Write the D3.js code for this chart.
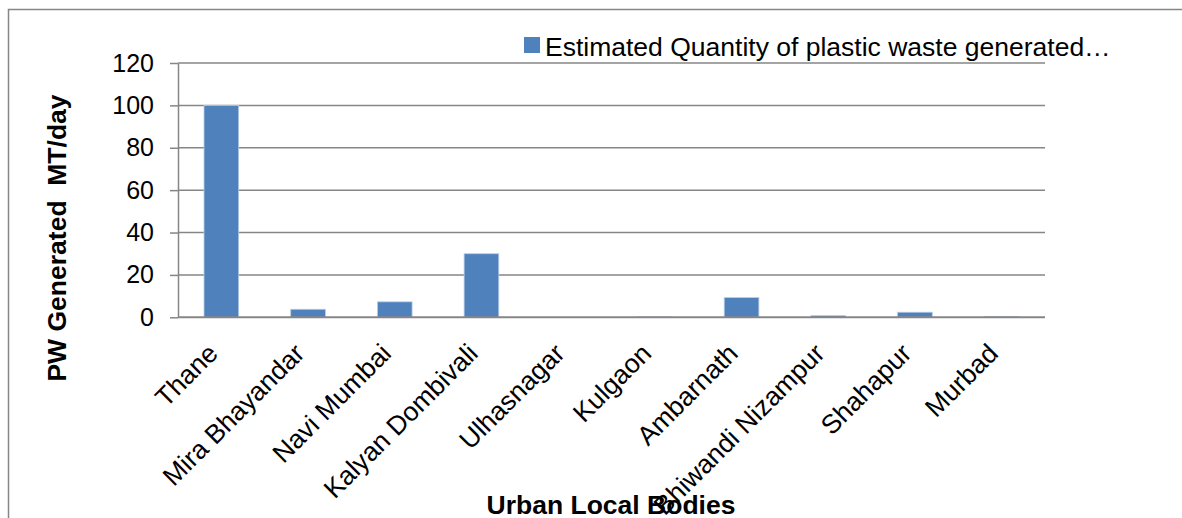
<!DOCTYPE html>
<html>
<head>
<meta charset="utf-8">
<script src="https://cdn.jsdelivr.net/npm/d3@7"></script>
<style>
  html, body { margin: 0; padding: 0; background: #fff; }
  svg { display: block; font-family: "Liberation Sans", Arial, sans-serif; }
</style>
</head>
<body>
<svg id="chart" width="1182" height="518"></svg>
<script>
// Urban local bodies and estimated plastic waste generated (MT/day)
const bodies = ["Thane", "Mira Bhayandar", "Navi Mumbai", "Kalyan Dombivali", "Ulhasnagar",
                "Kulgaon", "Ambarnath", "Bhiwandi Nizampur", "Shahapur", "Murbad"];
const wasteMTPerDay = [100, 3.8, 7.3, 30, 0, 0.2, 9.3, 0.8, 2.4, 0.4];
const yTicks = [0, 20, 40, 60, 80, 100, 120];
const seriesName = "Estimated Quantity of plastic waste generated\u2026";
const yTitle = "PW Generated  MT/day";
const xTitle = "Urban Local Bodies";

const svg = d3.select("#chart");
const grey = "#868686";
const barFill = "#4F81BD";

// outer chart frame
svg.append("path")
  .attr("d", "M8.5,520 V9.5 H1190")
  .attr("fill", "none").attr("stroke", grey).attr("stroke-width", 1.5);

const plot = { left: 178, right: 1045, top: 63, bottom: 317.3 };

const x = d3.scaleBand().domain(bodies).range([plot.left, plot.right]).paddingInner(0.6).paddingOuter(0.3);
const y = d3.scaleLinear().domain([0, 120]).range([plot.bottom, plot.top]);

// horizontal gridlines
svg.append("g").selectAll("line").data(yTicks.filter(d => d > 0)).join("line")
  .attr("x1", plot.left).attr("x2", plot.right)
  .attr("y1", d => y(d)).attr("y2", d => y(d))
  .attr("stroke", grey).attr("stroke-width", 1.5);

// y axis
const yAxis = svg.append("g").attr("transform", `translate(${plot.left},0)`)
  .call(d3.axisLeft(y).tickValues(yTicks).tickSize(8).tickPadding(16).tickSizeOuter(0));
yAxis.select(".domain").attr("stroke", grey).attr("stroke-width", 1.5);
yAxis.selectAll(".tick line").attr("stroke", grey).attr("stroke-width", 1.5);
yAxis.selectAll(".tick text").attr("font-size", 25).attr("fill", "#000")
  .attr("font-family", "Liberation Sans, Arial, sans-serif");

// bars
svg.append("g").selectAll("rect").data(bodies).join("rect")
  .attr("x", d => x(d))
  .attr("width", x.bandwidth())
  .attr("y", (d, i) => y(wasteMTPerDay[i]))
  .attr("height", (d, i) => plot.bottom - y(wasteMTPerDay[i]))
  .attr("fill", barFill)
  .attr("stroke", "#b9cde5").attr("stroke-width", 0.8);

// x axis baseline
svg.append("line")
  .attr("x1", plot.left).attr("x2", plot.right)
  .attr("y1", plot.bottom).attr("y2", plot.bottom)
  .attr("stroke", grey).attr("stroke-width", 2);

// axis titles
svg.append("text")
  .attr("transform", `translate(66,238) rotate(-90)`)
  .attr("text-anchor", "middle")
  .style("white-space", "pre")
  .attr("font-size", 26.5).attr("font-weight", "bold")
  .text(yTitle);

svg.append("text")
  .attr("x", 611).attr("y", 514)
  .attr("text-anchor", "middle")
  .attr("font-size", 26.5).attr("font-weight", "bold")
  .text(xTitle);

// category labels, rotated; drawn after the title so the long one overlaps it
svg.append("g").selectAll("text").data(bodies).join("text")
  .attr("transform", d => `translate(${x(d) + x.bandwidth() / 2 - 2},355) rotate(-45)`)
  .attr("text-anchor", "end")
  .attr("font-size", 26.5)
  .attr("fill", "#000")
  .text(d => d);

// legend
const legend = svg.append("g").attr("transform", "translate(524,37)");
legend.append("rect").attr("width", 16).attr("height", 16).attr("fill", barFill);
legend.append("text").attr("x", 21).attr("y", 19)
  .attr("font-size", 26.5).attr("fill", "#000")
  .text(seriesName);
</script>
</body>
</html>
